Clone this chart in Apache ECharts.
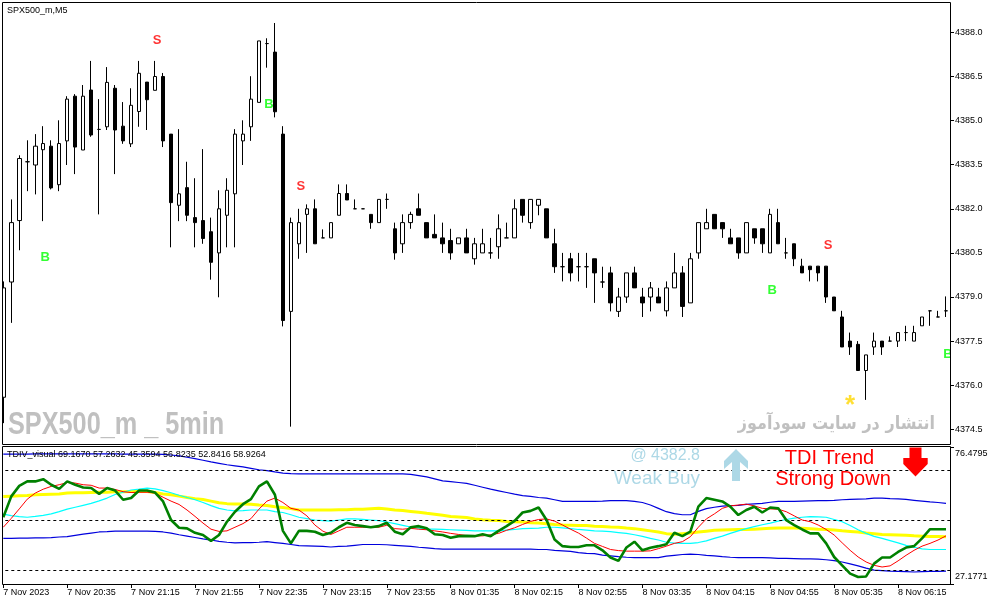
<!DOCTYPE html>
<html>
<head>
<meta charset="utf-8">
<script src="https://cdn.jsdelivr.net/npm/echarts@6/dist/echarts.min.js"></script>
<style>
html,body{margin:0;padding:0;background:#ffffff;overflow:hidden;}
#chart{width:991px;height:605px;}
</style>
</head>
<body>
<div id="chart"></div>
<script>
// ---------- categories / tick labels ----------
const firstDateLabel = '7 Nov 2023';
const nov7Times = ["19:55","20:00","20:05","20:10","20:15","20:20","20:25","20:30","20:35","20:40","20:45","20:50","20:55",
"21:00","21:05","21:10","21:15","21:20","21:25","21:30","21:35","21:40","21:45","21:50","21:55",
"22:00","22:05","22:10","22:15","22:20","22:25","22:30","22:35","22:40","22:45","22:50","22:55",
"23:00","23:05","23:10","23:15","23:20","23:25","23:30","23:35","23:40","23:45","23:50","23:55"];
const nov8Times = ["01:00","01:05","01:10","01:15","01:20","01:25","01:30","01:35","01:40","01:45","01:50","01:55",
"02:00","02:05","02:10","02:15","02:20","02:25","02:30","02:35","02:40","02:45","02:50","02:55",
"03:00","03:05","03:10","03:15","03:20","03:25","03:30","03:35","03:40","03:45","03:50","03:55",
"04:00","04:05","04:10","04:15","04:20","04:25","04:30","04:35","04:40","04:45","04:50","04:55",
"05:00","05:05","05:10","05:15","05:20","05:25","05:30","05:35","05:40","05:45","05:50","05:55",
"06:00","06:05","06:10","06:15","06:20","06:25","06:30","06:35","06:40","06:45"];
const categories = nov7Times.map(t => '7 Nov ' + t).concat(nov8Times.map(t => '8 Nov ' + t));

const priceTicks = [4374.5, 4376.0, 4377.5, 4379.0, 4380.5, 4382.0, 4383.5, 4385.0, 4386.5, 4388.0];
const priceMin = 4374, priceMax = 4389;
const tdiMin = 27.1771, tdiMax = 76.4795;
const tdiTicks = [27.1771, 76.4795];
const tdiLevels = [68, 50, 32];
const chartTitle = 'SPX500_m,M5';
const tdiHeader = 'TDIV_visual 69.1670 57.2632 45.3594 56.8235 52.8416 58.9264';

// ---------- candles ----------
const opens = [4375.59,4379.51,4381.60,4383.60,4383.49,4384.01,4384.13,4382.82,4384.31,4385.83,
4384.00,4386.04,4384.70,4384.79,4386.10,4384.81,4384.21,4385.31,4386.31,4386.03,
4386.50,4384.54,4382.12,4382.72,4381.70,4381.60,4381.22,4380.50,4381.78,4382.51,
4384.31,4384.79,4385.62,4387.62,4387.33,4384.54,4378.51,4380.81,4381.81,4382.00,
4381.01,4381.01,4381.78,4382.52,4382.00,4382.00,4381.81,4381.53,4382.32,4381.32,
4380.81,4381.53,4382.00,4381.53,4381.13,4381.01,4380.92,4380.81,4381.01,4380.30,
4380.50,4380.50,4380.71,4381.01,4381.01,4382.32,4381.53,4382.12,4382.00,4380.81,
4380.03,4380.30,4380.03,4380.03,4380.30,4379.51,4379.82,4378.51,4379.00,4379.82,
4379.00,4379.00,4379.00,4378.53,4379.31,4379.82,4378.80,4380.50,4381.32,4381.81,
4381.53,4381.01,4381.01,4380.50,4381.32,4381.32,4380.50,4381.53,4380.50,4380.81,
4380.05,4380.05,4380.05,4380.05,4379.00,4378.32,4377.50,4377.39,4376.50,4377.30,
4377.50,4377.50,4377.50,4377.79,4377.50,4378.02,4378.53,4378.32,4378.53];
const closes = [4379.31,4381.53,4383.71,4383.60,4384.13,4384.22,4382.71,4384.22,4385.73,4384.10,
4385.83,4384.51,4384.70,4386.30,4384.68,4384.31,4385.52,4386.61,4385.71,4386.50,
4384.31,4382.21,4382.51,4381.78,4381.53,4380.99,4380.18,4382.00,4382.63,4384.54,
4384.54,4385.73,4387.71,4387.62,4385.30,4378.20,4381.53,4381.53,4382.00,4380.81,
4381.01,4381.53,4382.52,4382.30,4382.00,4382.00,4381.53,4382.32,4382.32,4380.50,
4381.53,4381.81,4381.78,4381.01,4381.01,4380.81,4380.50,4381.01,4380.50,4380.81,
4380.81,4380.50,4381.32,4381.01,4382.00,4381.78,4382.32,4382.32,4381.01,4380.03,
4380.03,4379.82,4380.03,4380.03,4379.82,4379.51,4378.80,4379.00,4379.82,4379.31,
4378.80,4379.31,4378.80,4379.31,4379.82,4378.68,4380.30,4381.53,4381.53,4381.32,
4381.32,4380.81,4380.50,4381.53,4381.01,4380.81,4381.81,4380.81,4380.50,4380.30,
4379.82,4379.93,4379.82,4379.00,4378.53,4377.30,4377.30,4376.50,4377.03,4377.50,
4377.30,4377.50,4377.79,4377.79,4377.79,4378.32,4378.53,4378.32,4378.53];
const lows = [4374.71,4378.12,4380.59,4382.60,4382.49,4381.58,4382.66,4382.60,4383.49,4383.18,
4384.00,4384.45,4381.81,4384.68,4383.18,4384.21,4384.10,4384.79,4384.68,4386.03,
4384.10,4380.69,4381.58,4381.58,4380.69,4380.81,4379.59,4378.99,4380.69,4380.69,
4383.49,4384.31,4385.62,4386.80,4385.11,4378.00,4374.59,4380.30,4380.50,4380.81,
4381.01,4381.01,4381.78,4382.30,4382.00,4382.00,4381.32,4381.53,4382.00,4380.27,
4380.50,4381.32,4381.78,4381.01,4381.01,4380.50,4380.27,4380.81,4380.50,4380.10,
4380.50,4380.30,4380.30,4381.01,4381.01,4381.53,4381.32,4381.78,4381.01,4379.82,
4379.53,4379.53,4379.53,4379.31,4378.80,4379.31,4378.51,4378.32,4378.80,4379.31,
4378.32,4378.51,4378.80,4378.34,4379.31,4378.32,4378.80,4380.30,4381.32,4381.32,
4381.01,4380.81,4380.30,4380.50,4380.81,4380.50,4380.50,4380.81,4380.30,4380.05,
4379.82,4379.53,4379.53,4378.80,4378.53,4377.30,4377.03,4376.50,4375.50,4377.03,
4377.03,4377.50,4377.30,4377.50,4377.50,4378.02,4378.02,4378.32,4378.32];
const highs = [4379.53,4382.32,4383.82,4384.33,4384.54,4384.81,4384.33,4385.01,4385.83,4385.90,
4386.21,4387.03,4385.73,4386.82,4386.21,4385.63,4386.10,4387.03,4386.31,4387.03,
4386.62,4384.54,4384.71,4383.60,4383.04,4384.03,4381.70,4382.63,4383.04,4384.71,
4385.01,4386.51,4387.71,4387.80,4388.32,4384.81,4381.70,4382.00,4382.15,4382.32,
4381.30,4381.53,4382.83,4382.83,4382.32,4382.00,4381.81,4382.32,4382.52,4381.53,
4381.81,4381.90,4382.52,4381.53,4381.81,4381.53,4381.32,4381.01,4381.32,4381.01,
4381.32,4381.01,4381.81,4381.53,4382.32,4382.32,4382.32,4382.32,4382.00,4381.32,
4380.50,4380.50,4380.50,4380.50,4380.30,4380.03,4380.03,4379.31,4379.82,4380.03,
4379.31,4379.51,4379.31,4379.53,4380.50,4380.05,4380.50,4381.53,4382.00,4381.81,
4381.53,4381.32,4381.01,4381.53,4381.32,4381.32,4382.00,4382.00,4381.01,4380.81,
4380.30,4380.05,4380.05,4380.05,4379.00,4378.53,4377.79,4377.50,4377.03,4377.79,
4377.50,4377.66,4377.79,4378.02,4378.02,4378.32,4378.53,4378.53,4379.02];

// ---------- signal marks ----------
const signalBars   = [19, 33, 37, 5, 96, 103, 106, 118];
const signalPrices = [4387.74, 4385.56, 4382.76, 4380.34, 4379.22, 4380.75, 4375.55, 4377.05];
const signalTexts  = ['S', 'B', 'S', 'B', 'B', 'S', '*', 'B'];

// ---------- TDI indicator ----------
const tdiGreen = [51.2,58.7,62.5,64.1,64.1,64.9,62.9,61.4,64.1,62.9,61.9,61.7,59.6,61.7,60.8,57.5,58.1,60.8,60.8,60.1,56.9,50.2,47.4,47.2,45.6,44.8,42.7,44.8,49.6,53.2,55.9,57.7,62.3,64.1,59.3,46.3,41.8,46.3,46.3,46.0,44.8,
45.6,47.6,49.2,48.4,48.0,47.6,48.0,49.2,46.0,45.1,47.6,48.0,47.2,45.1,44.8,43.8,44.4,44.5,44.4,45.1,44.4,46.3,48.0,49.9,52.9,53.5,54.7,50.2,43.2,40.8,40.5,40.5,41.1,41.1,39.3,36.7,35.5,40.3,42.4,39.3,40.2,40.8,
41.5,45.6,44.4,46.0,55.0,58.1,57.5,56.9,55.0,52.0,53.8,55.0,52.9,54.7,54.4,50.2,48.4,46.8,45.4,45.4,41.8,36.9,33.9,30.9,29.7,29.9,34.5,36.7,36.7,38.7,40.3,40.8,43.6,46.9,46.9,46.9];
const tdiRed = [47.6,50.8,54.2,57.7,59.9,61.3,62.3,62.9,63.7,63.5,62.9,62.7,61.7,61.7,61.2,60.4,60.1,60.2,60.2,59.9,58.4,57.0,55.8,53.8,51.5,49.1,46.9,46.1,46.3,47.6,48.9,50.7,54.1,57.0,58.1,56.5,54.4,53.8,51.7,48.4,46.2,
45.0,46.3,47.6,47.6,47.6,47.6,47.6,48.3,47.1,46.9,47.2,46.9,46.7,46.3,45.9,45.4,45.0,44.6,44.5,44.5,44.9,45.4,46.5,47.4,48.6,49.7,50.4,50.6,49.8,48.4,46.9,45.5,43.7,41.8,40.7,39.6,39.2,39.0,39.0,39.0,39.1,39.9,
40.8,41.8,42.4,44.2,47.6,50.6,52.4,54.4,55.3,55.6,55.9,55.3,54.4,54.2,54.1,53.2,51.7,50.2,49.6,48.4,46.8,44.8,42.0,39.3,36.9,35.1,33.9,33.3,33.7,35.5,37.5,39.3,40.8,41.8,43.0,44.5];
const tdiYellow = [58.7,58.8,58.9,59.0,59.3,59.4,59.5,59.6,59.9,60.0,60.0,60.1,60.2,60.2,60.4,60.4,60.5,60.5,60.5,60.1,59.6,59.3,58.8,58.3,57.9,57.6,57.0,56.4,56.1,56.0,56.0,55.9,55.6,55.4,55.0,54.7,54.3,53.8,53.8,53.8,53.8,
53.8,53.9,53.9,54.1,54.1,54.3,54.4,54.2,53.8,53.6,53.3,53.0,52.6,52.3,51.9,51.5,51.3,51.1,50.6,50.3,50.1,50.0,49.7,49.6,49.5,49.2,49.1,48.9,48.6,48.4,48.3,48.2,48.2,48.0,47.9,47.7,47.6,47.3,47.1,46.7,46.3,45.9,
45.3,45.1,45.3,45.5,45.9,46.2,46.5,46.6,46.7,46.8,46.8,46.9,47.1,47.2,47.3,47.3,47.3,47.2,47.1,46.9,46.8,46.6,46.3,46.1,45.9,45.5,45.3,45.0,44.9,44.8,44.7,44.5,44.4,44.3,44.3,44.2];
const tdiCyan = [52.3,51.8,51.4,51.2,51.5,51.9,52.4,53.2,54.1,54.8,55.5,56.2,57.1,58.1,59.4,60.2,61.0,61.3,61.7,61.4,60.8,60.0,59.1,58.3,57.5,56.5,55.4,54.4,53.8,53.5,53.6,53.8,53.8,53.8,53.2,52.9,52.1,51.2,50.7,50.2,50.0,
49.8,50.2,50.6,50.6,50.4,50.2,50.0,49.5,48.9,48.3,47.7,47.3,46.9,46.9,46.8,46.7,46.6,46.5,46.3,46.3,46.3,46.3,46.6,46.8,47.1,47.2,47.3,47.6,47.6,47.4,47.1,46.8,46.6,46.3,46.2,46.0,45.7,45.4,44.9,44.3,43.6,43.0,
42.2,41.9,41.8,41.8,42.1,42.7,43.6,44.4,45.4,46.3,47.1,47.8,48.5,49.1,49.8,50.4,50.9,51.2,51.4,51.3,51.2,50.4,49.6,48.2,46.7,45.4,44.3,43.6,42.8,42.0,41.1,40.4,39.8,39.6,39.6,39.6];
const tdiUpper = [73.9,73.9,73.9,73.9,74.0,74.0,74.0,74.0,74.0,74.0,74.0,74.0,74.0,74.0,74.0,73.9,73.9,73.9,73.9,73.9,73.8,73.6,73.3,72.8,72.3,71.7,71.1,70.6,70.1,69.7,69.3,68.8,68.3,68.0,67.5,67.1,66.9,66.8,66.8,66.8,66.8,
66.8,66.8,66.8,66.8,66.8,66.8,66.8,66.8,66.8,66.8,66.6,66.2,65.7,65.0,64.3,64.0,63.7,63.4,62.7,62.0,61.3,60.7,60.1,59.5,59.0,58.7,58.3,58.1,57.5,56.9,56.9,56.9,56.9,56.9,57.0,57.2,57.2,57.2,56.9,56.5,55.6,54.4,
53.2,52.5,52.1,52.1,53.3,54.3,54.8,55.2,55.4,55.5,55.8,56.0,56.2,56.6,56.9,56.9,56.9,57.0,57.1,57.2,57.2,57.3,57.5,57.6,57.7,57.8,58.1,58.1,57.9,57.8,57.6,57.3,57.0,56.7,56.5,56.2];
const tdiLower = [43.6,43.6,43.7,43.7,43.8,43.8,43.9,44.1,44.2,44.7,45.1,45.5,45.9,46.0,46.2,46.2,46.2,46.2,46.2,46.1,45.9,45.5,44.9,44.4,43.9,43.4,43.0,42.5,42.2,42.0,42.1,42.1,42.2,42.4,42.1,41.8,41.4,41.0,40.9,40.8,40.7,
40.5,40.7,40.8,41.1,41.4,41.4,41.4,41.3,41.1,40.9,40.7,40.4,40.2,39.9,39.7,39.7,39.7,39.7,39.7,39.7,39.7,39.7,39.7,39.7,39.7,39.7,39.6,39.6,39.3,39.1,38.9,38.5,38.2,38.1,37.6,37.3,37.0,36.8,36.7,36.7,36.7,36.7,
37.2,37.5,37.8,37.9,37.8,37.5,37.3,37.0,36.8,36.7,36.7,36.7,36.7,36.6,36.4,36.4,36.3,36.2,36.2,36.1,35.9,35.6,35.1,34.4,33.7,32.9,32.2,32.0,31.8,31.7,31.6,31.5,31.6,31.7,31.7,31.8];

// ---------- build ----------
const FONT = "'Liberation Sans', Arial, sans-serif";
const candles = opens.map((o, i) => [o, closes[i], lows[i], highs[i]]);
const signalStyle = {
  'S': {color: '#ff0000', fontSize: 13, fontFamily: FONT, fontWeight: 'bold', offset: [2, 0]},
  'B': {color: '#00ff00', fontSize: 13, fontFamily: FONT, fontWeight: 'bold', offset: [2, 0]},
  '*': {color: '#ffd700', fontSize: 26, fontFamily: FONT, fontWeight: 'bold', offset: [0, 7]}
};
const signals = signalBars.map((b, i) => ({
  name: signalTexts[i],
  value: [b, signalPrices[i]],
  label: Object.assign({show: true, position: 'inside'}, signalStyle[signalTexts[i]])
}));

function lineSeries(data, color, width, z, extra) {
  return Object.assign({
    type: 'line', xAxisIndex: 1, yAxisIndex: 1, data: data,
    symbol: 'none', showSymbol: false, silent: true, z: z,
    lineStyle: {color: color, width: width},
    emphasis: {disabled: true}
  }, extra || {});
}

function txt(x, y, text, size, color, align, family, weight, z, scaleX) {
  return {type: 'text', x: x, y: y, z: z || 50, silent: true, scaleX: scaleX || 1,
    style: {text: text, fill: color, fontSize: size, fontFamily: family || FONT, fontWeight: weight || 'normal',
      align: align, textAlign: align, verticalAlign: 'middle', textVerticalAlign: 'middle'}};
}

const chart = echarts.init(document.getElementById('chart'), null, {renderer: 'canvas'});
const option = {
  animation: false,
  backgroundColor: '#ffffff',
  grid: [
    {left: -0.7, right: 41, top: 3, height: 441, containLabel: false, outerBoundsMode: 'none'},
    {left: -0.7, right: 41, top: 447, height: 137, containLabel: false, outerBoundsMode: 'none'}
  ],
  xAxis: [
    {type: 'category', gridIndex: 0, data: categories, boundaryGap: true,
     axisLine: {show: false}, axisTick: {show: false}, axisLabel: {show: false}, splitLine: {show: false}},
    {type: 'category', gridIndex: 1, data: categories, boundaryGap: true,
     axisLine: {show: false},
     axisTick: {show: true, interval: 7, alignWithLabel: true, length: 4, lineStyle: {color: '#000', width: 1}},
     axisLabel: {show: true, interval: 7, hideOverlap: false, align: 'left', margin: 4, fontSize: 9, fontFamily: FONT, color: '#000',
       formatter: (v, i) => i === 0 ? firstDateLabel : v},
     splitLine: {show: false}}
  ],
  yAxis: [
    {type: 'value', gridIndex: 0, position: 'right', min: priceMin, max: priceMax,
     axisLine: {show: false}, splitLine: {show: false},
     axisTick: {show: true, customValues: priceTicks, length: 4, lineStyle: {color: '#000', width: 1}},
     axisLabel: {show: true, customValues: priceTicks, margin: 5, fontSize: 9, fontFamily: FONT, color: '#000',
       formatter: v => Number(v).toFixed(1)}},
    {type: 'value', gridIndex: 1, position: 'right', min: tdiMin, max: tdiMax,
     axisLine: {show: false}, splitLine: {show: false},
     axisTick: {show: true, customValues: tdiTicks, length: 4, lineStyle: {color: '#000', width: 1}},
     axisLabel: {show: true, customValues: tdiTicks, margin: 5,
       formatter: v => (Math.abs(v - tdiMax) < 1e-6 ? '{t|' : '{b|') + Number(v).toFixed(4) + '}',
       rich: {
         t: {fontSize: 9, fontFamily: FONT, color: '#000', padding: [14, 0, 0, 0]},
         b: {fontSize: 9, fontFamily: FONT, color: '#000', padding: [0, 0, 14, 0]}
       }}}
  ],
  series: [
    {type: 'candlestick', xAxisIndex: 0, yAxisIndex: 0, data: candles, barWidth: 4, silent: true, z: 2,
     itemStyle: {color: '#ffffff', color0: '#000000', borderColor: '#000000', borderColor0: '#000000',
       borderColorDoji: '#000000', borderWidth: 1},
     emphasis: {disabled: true}},
    {type: 'scatter', xAxisIndex: 0, yAxisIndex: 0, data: signals, symbolSize: 1, silent: true, z: 3,
     itemStyle: {color: 'rgba(0,0,0,0)'},
     label: {show: true, position: 'inside', formatter: p => p.name},
     emphasis: {disabled: true}},
    lineSeries(tdiYellow, '#ffff00', 3, 2, {
      markLine: {silent: true, symbol: ['none', 'none'], label: {show: false},
        lineStyle: {color: '#000000', type: [3, 3], width: 1},
        emphasis: {disabled: true},
        data: tdiLevels.map(v => ({yAxis: v}))}
    }),
    lineSeries(tdiUpper, '#0000dd', 1.2, 3),
    lineSeries(tdiLower, '#0000dd', 1.2, 3),
    lineSeries(tdiCyan, '#00ffff', 1.2, 4),
    lineSeries(tdiRed, '#ff0000', 1, 5),
    lineSeries(tdiGreen, '#008000', 2.6, 6)
  ],
  graphic: {elements: [
    // watermarks
    txt(8, 425, 'SPX500_m _ 5min', 31, '#c0c0c0', 'left', FONT, 'bold', 1, 0.815),
    txt(935, 424, 'انتشار در سایت سودآموز', 18, '#c0c0c0', 'right', "'DejaVu Sans', sans-serif", 'bold', 1, 0.89),
    // masks and frames
    {type: 'rect', z: 90, silent: true, shape: {x: 0, y: 0, width: 2, height: 590}, style: {fill: '#ffffff'}},
    {type: 'rect', z: 90, silent: true, shape: {x: 951, y: 346, width: 4, height: 18}, style: {fill: '#ffffff'}},
    {type: 'rect', z: 100, silent: true, shape: {x: 2.5, y: 2.5, width: 948, height: 442}, style: {fill: 'none', stroke: '#000', lineWidth: 1}},
    {type: 'rect', z: 100, silent: true, shape: {x: 2.5, y: 446.5, width: 948, height: 138}, style: {fill: 'none', stroke: '#000', lineWidth: 1}},
    // titles
    txt(7, 11, chartTitle, 9, '#000000', 'left'),
    txt(7, 455, tdiHeader, 9, '#000000', 'left'),
    // TDI annotations
    txt(700, 456, '@ 4382.8', 16, '#add8e6', 'right'),
    txt(700, 478.5, 'Weak Buy', 19, '#add8e6', 'right'),
    txt(829.5, 458.5, 'TDI Trend', 20, '#ff0000', 'center'),
    txt(833, 479.5, 'Strong Down', 20, '#ff0000', 'center'),
    {type: 'polygon', z: 60, silent: true, shape: {points: [[736, 449], [748, 461], [748, 469], [740, 462], [740, 481], [732, 481], [732, 462], [724, 469], [724, 461]]},
     style: {fill: '#add8e6'}},
    {type: 'polygon', z: 60, silent: true, shape: {points: [[909.5, 447.5], [921.5, 447.5], [921.5, 458], [927.7, 458], [927.7, 464], [915.5, 476.5], [903.3, 464], [903.3, 458], [909.5, 458]]},
     style: {fill: '#ff0000'}}
  ]}
};
chart.setOption(option);
</script>
</body>
</html>
